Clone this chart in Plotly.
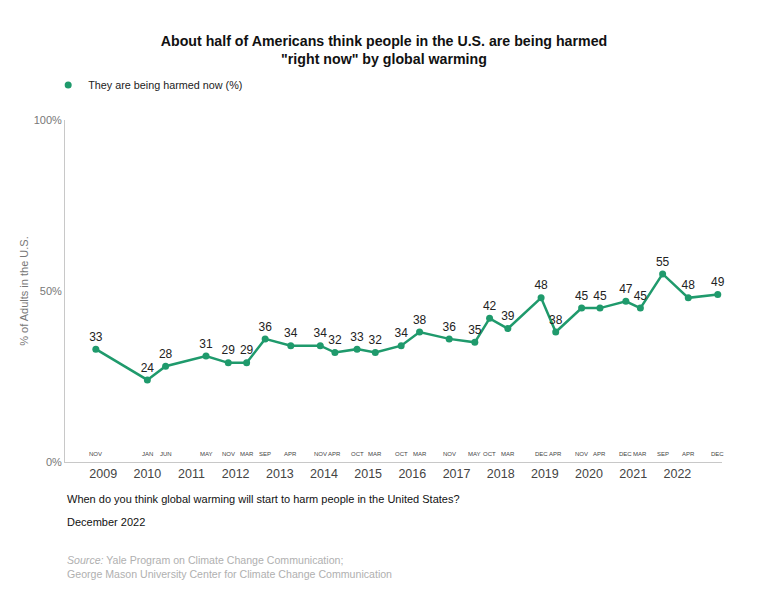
import plotly.graph_objects as go

# Survey wave positions on the time axis (as placed in the reference) and values
dates = ["2008-11-01", "2010-01-01", "2010-06-01", "2011-05-01", "2011-11-01",
         "2012-04-01", "2012-09-01", "2013-04-01", "2013-12-01", "2014-04-01",
         "2014-10-01", "2015-03-01", "2015-10-01", "2016-03-01", "2016-11-01",
         "2017-06-01", "2017-10-01", "2018-03-01", "2018-12-01", "2019-04-01",
         "2019-11-01", "2020-04-01", "2020-11-01", "2021-03-01", "2021-09-01",
         "2022-04-01", "2022-12-01"]
month_labels = ["NOV", "JAN", "JUN", "MAY", "NOV", "MAR", "SEP", "APR", "NOV", "APR",
                "OCT", "MAR", "OCT", "MAR", "NOV", "MAY", "OCT", "MAR", "DEC", "APR",
                "NOV", "APR", "DEC", "MAR", "SEP", "APR", "DEC"]
harmed_now = [33, 24, 28, 31, 29, 29, 36, 34, 34, 32, 33, 32, 34, 38, 36, 35, 42, 39,
              48, 38, 45, 45, 47, 45, 55, 48, 49]
year_labels = [str(y) for y in range(2009, 2023)]
year_ticks = [f"{y}-01-01" for y in range(2009, 2023)]
y_tick_vals = [0, 50, 100]
y_tick_text = ["0%", "50%", "100%"]

GREEN = "#1f9a6c"
FONT = "Liberation Sans, Arial, sans-serif"

fig = go.Figure()
fig.add_trace(go.Scatter(
    x=dates, y=harmed_now, mode="lines+markers+text",
    text=[str(v) for v in harmed_now], textposition="top center",
    textfont=dict(size=12, color="#222", family=FONT),
    line=dict(color=GREEN, width=2.5), marker=dict(color=GREEN, size=7),
    showlegend=False, cliponaxis=False, hoverinfo="x+y"))
fig.add_trace(go.Scatter(
    x=[None], y=[None], mode="markers", name="They are being harmed now (%)",
    marker=dict(color=GREEN, size=7)))

annotations = []
for d, m in zip(dates, month_labels):
    annotations.append(dict(x=d, y=0, xref="x", yref="y", text=m, showarrow=False,
                            yshift=8, font=dict(size=6, color="#444", family=FONT)))

annotations += [
    dict(x=0, y=-0.108, xref="paper", yref="paper", xanchor="left", yanchor="middle",
         text="When do you think global warming will start to harm people in the United States?",
         showarrow=False, font=dict(size=11, color="#111", family=FONT)),
    dict(x=0, y=-0.176, xref="paper", yref="paper", xanchor="left", yanchor="middle",
         text="December 2022", showarrow=False, font=dict(size=11, color="#111", family=FONT)),
    dict(x=0, y=-0.3056, xref="paper", yref="paper", xanchor="left", yanchor="middle", align="left",
         text="<i>Source:</i> Yale Program on Climate Change Communication;<br>George Mason University Center for Climate Change Communication",
         showarrow=False, font=dict(size=10.6, color="#b0b0b0", family=FONT)),
]

fig.update_layout(
    width=768, height=614,
    margin=dict(l=65, r=46, t=120, b=152),
    paper_bgcolor="white", plot_bgcolor="white",
    font=dict(family=FONT),
    title=dict(text="<b>About half of Americans think people in the U.S. are being harmed<br>\"right now\" by global warming</b>",
               x=0.5, xanchor="center", y=0.9257, yanchor="middle",
               font=dict(size=14.2, color="#111", family=FONT)),
    legend=dict(orientation="h", x=-0.0256, xanchor="left", y=1.102, yanchor="middle",
                font=dict(size=10.8, color="#222", family=FONT), bgcolor="rgba(0,0,0,0)"),
    xaxis=dict(type="date", range=["2008-02-20", "2023-01-05"],
               tickvals=year_ticks, ticktext=year_labels, ticks="",
               tickfont=dict(size=12.5, color="#444", family=FONT),
               showgrid=False, zeroline=False, showline=True, linecolor="#c8c8c8", linewidth=1),
    yaxis=dict(range=[0, 100], tickvals=y_tick_vals, ticktext=y_tick_text, ticks="",
               tickfont=dict(size=11, color="#777", family=FONT),
               title=dict(text="% of Adults in the U.S.", font=dict(size=11, color="#777", family=FONT), standoff=2),
               showgrid=False, zeroline=False, showline=True, linecolor="#c8c8c8", linewidth=1),
    annotations=annotations,
)

fig.write_html("out.html")
